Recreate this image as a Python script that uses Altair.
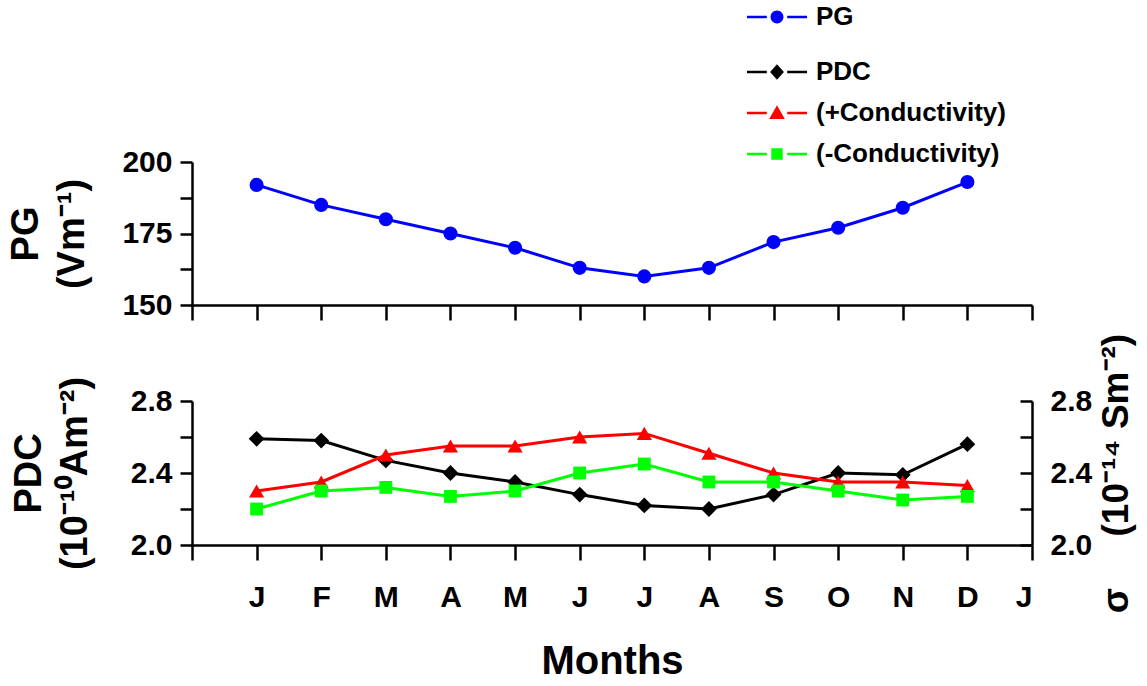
import altair as alt
import pandas as pd

# Monthly means
month_labels = ["J", "F", "M", "A", "M", "J", "J", "A", "S", "O", "N", "D", "J"]
months = list(range(1, 13))
pg = [192, 185, 180, 175, 170, 163, 160, 163, 172, 177, 184, 193]
pdc = [2.59, 2.58, 2.47, 2.40, 2.35, 2.28, 2.22, 2.20, 2.28, 2.40, 2.39, 2.56]
cond_pos = [2.30, 2.35, 2.50, 2.55, 2.55, 2.60, 2.62, 2.51, 2.40, 2.35, 2.35, 2.33]
cond_neg = [2.20, 2.30, 2.32, 2.27, 2.30, 2.40, 2.45, 2.35, 2.35, 2.30, 2.25, 2.27]

series_names = ["PG", "PDC", "(+Conductivity)", "(-Conductivity)"]
series_colors = ["#0000ff", "#000000", "#ff0000", "#00ff00"]
series_shapes = ["circle", "diamond", "triangle-up", "square"]
series_sizes = [200, 250, 230, 165]

FONT = "Liberation Sans"
PANEL_W = 840

# legend glyphs (unit = half the symbol box): bar, marker, bar
stub = "M-2,-0.09L-0.68,-0.09L-0.68,0.09L-2,0.09ZM0.68,-0.09L2,-0.09L2,0.09L0.68,0.09Z"
legend_paths = {
    "PG": stub + "M-0.43,0A0.43,0.43 0 1,0 0.43,0A0.43,0.43 0 1,0 -0.43,0Z",
    "PDC": stub + "M0,-0.52L0.46,0L0,0.52L-0.46,0Z",
    "(+Conductivity)": stub + "M0,-0.52L0.52,0.4L-0.52,0.4Z",
    "(-Conductivity)": stub + "M-0.38,-0.38L0.38,-0.38L0.38,0.38L-0.38,0.38Z",
}


def pick_expr(values):
    expr = "''"
    for name in reversed(series_names):
        expr = f"datum.value === '{name}' ? '{values[name]}' : ({expr})"
    return expr


shape_expr = pick_expr(legend_paths)
color_expr = pick_expr(dict(zip(series_names, series_colors)))


def legend(x, y):
    return alt.Legend(
        title=None, orient="none", legendX=x, legendY=y, padding=0,
        labelFont=FONT, labelFontSize=26, labelFontWeight="bold", labelColor="black",
        labelOffset=24, symbolSize=900, rowPadding=13, labelLimit=400,
        symbolType=alt.ExprRef(expr=shape_expr),
        symbolFillColor=alt.ExprRef(expr=color_expr),
        symbolStrokeColor=alt.ExprRef(expr=color_expr),
        symbolStrokeWidth=0, symbolOpacity=1,
    )


month_expr = "[" + ",".join(f"'{m}'" for m in month_labels) + "]"


def x_enc(with_labels):
    return alt.X(
        "month:Q",
        scale=alt.Scale(domain=[0, 13], nice=False, zero=False),
        axis=alt.Axis(
            values=list(range(0, 14)), labels=with_labels,
            labelExpr=f"datum.value >= 1 ? {month_expr}[datum.value - 1] : ''",
            labelFont=FONT, labelFontSize=30, labelFontWeight="bold", labelColor="black",
            labelPadding=22, tickSize=15, tickWidth=2.5, tickColor="black",
            domainColor="black", domainWidth=2.5, grid=False,
            title="Months" if with_labels else None,
            titleFont=FONT, titleFontSize=40, titleFontWeight="bold", titleColor="black",
            titlePadding=29,
        ),
    )


def y_axis(values, label_expr, title, orient="left", fmt=None, title_pad=30, **extra):
    kw = dict(
        values=values, labelExpr=label_expr, orient=orient,
        labelFont=FONT, labelFontSize=30, labelFontWeight="bold", labelColor="black",
        labelPadding=8, tickSize=12, tickWidth=2.5, tickColor="black",
        domainColor="black", domainWidth=2.5, grid=False,
        title=title, titleFont=FONT, titleFontSize=38, titleFontWeight="bold",
        titleColor="black", titlePadding=title_pad, titleLineHeight=46, titleAngle=270,
    )
    if fmt:
        kw["format"] = fmt
    kw.update(extra)
    return alt.Axis(**kw)


def series_layer(df, present, names, x, y, leg):
    idx = [series_names.index(n) for n in names]
    color = alt.Color(
        "series:N",
        scale=alt.Scale(domain=names, range=[series_colors[i] for i in idx]),
        legend=leg,
    )
    base = alt.Chart(df).encode(x=x, y=y, color=color)
    layers = [base.mark_line(strokeWidth=3)]
    for name in present:
        i = series_names.index(name)
        layers.append(
            base.transform_filter(alt.datum.series == name).mark_point(
                filled=True, opacity=1, shape=series_shapes[i], size=series_sizes[i]
            )
        )
    return alt.layer(*layers)


# upper panel: potential gradient
pg_df = pd.DataFrame({"month": months, "value": pg, "series": "PG"})
pg_y = alt.Y(
    "value:Q", scale=alt.Scale(domain=[150, 200], nice=False, zero=False),
    axis=y_axis([150, 162.5, 175, 187.5, 200], "datum.value % 25 == 0 ? datum.label : ''",
                ["PG", "(Vm⁻¹)"]),
)
top = series_layer(pg_df, ["PG"], ["PG"], x_enc(False), pg_y, legend(570, -160)).properties(
    width=PANEL_W, height=143
)

# lower panel: PDC (left) and conductivities (right)
pdc_df = pd.DataFrame({"month": months, "value": pdc, "series": "PDC"})
cond_df = pd.concat([
    pd.DataFrame({"month": months, "value": cond_pos, "series": "(+Conductivity)"}),
    pd.DataFrame({"month": months, "value": cond_neg, "series": "(-Conductivity)"}),
])
tick_vals = [2.0, 2.2, 2.4, 2.6, 2.8]
every_other = "round(datum.value * 10) % 4 == 0 ? datum.label : ''"
low_names = ["PDC", "(+Conductivity)", "(-Conductivity)"]
low_legend = legend(570, -344)
low_scale = alt.Scale(domain=[2.0, 2.8], nice=False, zero=False)
low_x = x_enc(True)

sigma_title = "σ" + "\u00a0" * 5 + "(10⁻¹⁴ Sm⁻²)"
pdc_y = alt.Y("value:Q", scale=low_scale,
              axis=y_axis(tick_vals, every_other, ["PDC", "(10⁻¹⁰Am⁻²)"], fmt=".1f", title_pad=36))
cond_y = alt.Y("value:Q", scale=low_scale,
               axis=y_axis(tick_vals, every_other, sigma_title, orient="right",
                           fmt=".1f", title_pad=44, ticks=False, tickSize=0, labelPadding=18,
                           titleFontSize=37))
# inward-pointing ticks on the right-hand conductivity axis
cond_ticks = alt.Chart(cond_df).mark_point(opacity=0).encode(
    x=low_x,
    y=alt.Y("value:Q", scale=low_scale,
            axis=alt.Axis(values=tick_vals, orient="left", offset=-PANEL_W, labels=False,
                          domain=False, tickSize=12, tickWidth=2.5, tickColor="black",
                          grid=False, title=None)),
)

bottom = alt.layer(
    series_layer(pdc_df, ["PDC"], low_names, low_x, pdc_y, low_legend),
    series_layer(cond_df, ["(+Conductivity)", "(-Conductivity)"], low_names, low_x, cond_y, low_legend),
    cond_ticks,
).resolve_scale(y="independent").properties(width=PANEL_W, height=144)

chart = (
    alt.vconcat(top, bottom, spacing=96, bounds="flush")
    .resolve_scale(color="independent")
    .resolve_legend(color="independent")
    .properties(padding={"left": 7, "top": 2, "right": 2, "bottom": 2}, background="white")
    .configure_view(stroke=None)
)

chart.save("out.html", embed_options={"renderer": "svg", "actions": False})
